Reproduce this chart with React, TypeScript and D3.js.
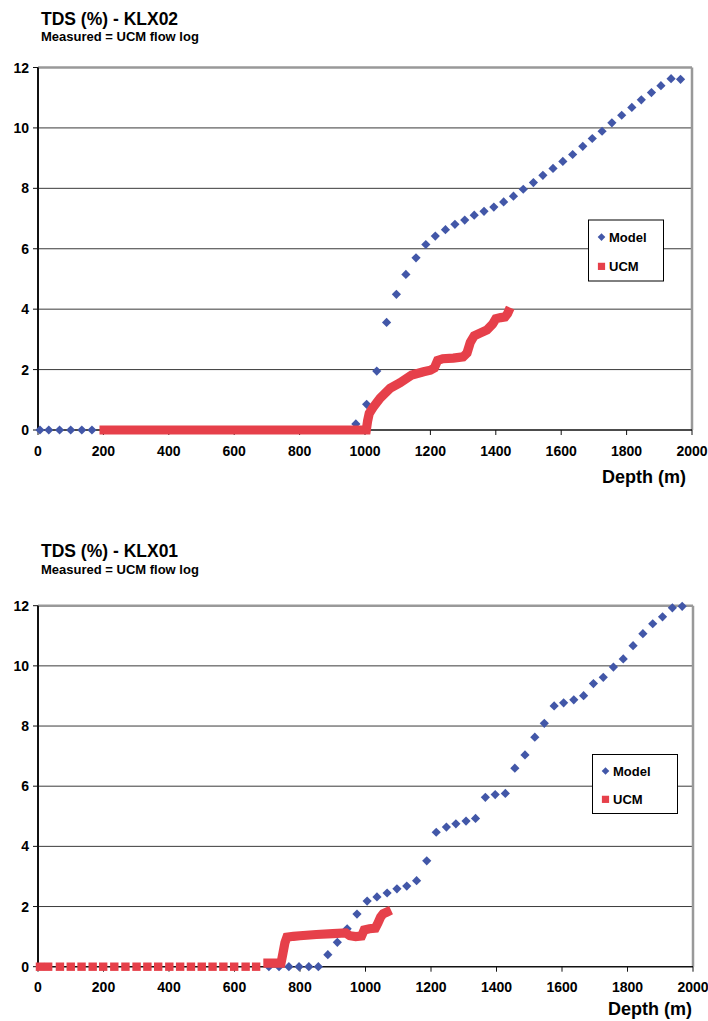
import React from 'react';
import * as d3 from 'd3';

// axis ticks
const depthTicks = [0, 200, 400, 600, 800, 1000, 1200, 1400, 1600, 1800, 2000];
const tdsTicks = [0, 2, 4, 6, 8, 10, 12];
const gridTicks = [2, 4, 6, 8, 10];

// ---- KLX02 ----
const klx02ModelDepth = [
  6, 33, 66, 100, 134, 165,
  972, 1005, 1036, 1066, 1096, 1125, 1156, 1186, 1215, 1246, 1275, 1305, 1334, 1364,
  1394, 1424, 1454, 1484, 1515, 1544, 1575, 1605, 1635, 1666, 1695, 1725, 1755, 1785,
  1816, 1845, 1876, 1905, 1936, 1965,
];
const klx02ModelTds = [
  0, 0, 0, 0, 0, 0,
  0.2, 0.85, 1.95, 3.56, 4.49, 5.15, 5.7, 6.14, 6.42, 6.63, 6.81, 6.95, 7.11, 7.24,
  7.38, 7.55, 7.74, 7.97, 8.19, 8.43, 8.66, 8.89, 9.12, 9.39, 9.65, 9.89, 10.17, 10.42,
  10.68, 10.93, 11.17, 11.4, 11.63, 11.61,
];
// UCM flow log (continuous)
const klx02UcmDepth = [
  188, 400, 600, 800, 1004, 1008, 1013, 1025, 1046, 1077, 1107, 1143, 1179, 1200, 1212,
  1222, 1238, 1270, 1300, 1312, 1322, 1334, 1350, 1373, 1390, 1400, 1415, 1428, 1436, 1444,
];
const klx02UcmTds = [
  0, 0, 0, 0, 0, 0.3, 0.55, 0.75, 1.05, 1.38, 1.56, 1.82, 1.93, 1.98, 2.05,
  2.3, 2.36, 2.38, 2.42, 2.55, 2.9, 3.12, 3.2, 3.31, 3.5, 3.68, 3.72, 3.74, 3.85, 4.05,
];
const klx02UcmSpotDepth: number[] = [];

// ---- KLX01 ----
const klx01ModelDepth = [
  705, 736, 766, 797, 827, 856, 885, 914, 944, 974, 1005, 1035, 1066, 1096, 1126, 1156,
  1187, 1216, 1247, 1276, 1307, 1336, 1366, 1396, 1427, 1456, 1487, 1517, 1546, 1576,
  1605, 1636, 1666, 1696, 1726, 1757, 1787, 1817, 1847, 1877, 1907, 1937, 1967,
];
const klx01ModelTds = [
  0, 0, 0, 0, 0, 0, 0.4, 0.81, 1.26, 1.75, 2.18, 2.32, 2.45, 2.59, 2.68, 2.86,
  3.52, 4.47, 4.64, 4.75, 4.84, 4.93, 5.63, 5.72, 5.76, 6.6, 7.04, 7.63, 8.09, 8.67,
  8.77, 8.87, 9.01, 9.41, 9.62, 9.96, 10.23, 10.67, 11.07, 11.4, 11.63, 11.93, 11.98,
];
// sparse UCM readings above the logged interval (all zero)
const klx01UcmSpotDepth = [
  6, 31, 67, 100, 133, 167, 199, 233, 267, 301, 334, 367, 401, 434, 467, 500, 533,
  566, 599, 634, 666,
];
const klx01UcmDepth = [
  688, 742, 748, 754, 760, 780, 800, 850, 900, 940, 952, 970, 988, 996, 1012, 1030,
  1038, 1046, 1054, 1066, 1078,
];
const klx01UcmTds = [
  0.12, 0.12, 0.45, 0.8, 0.98, 1.01, 1.03, 1.07, 1.1, 1.12, 1.03, 1.0, 1.02, 1.22, 1.26,
  1.28, 1.45, 1.65, 1.76, 1.82, 1.88,
];

const FONT = '"Liberation Sans", Arial, Helvetica, sans-serif';
const BLUE = '#4257a8';
const RED = '#e6404a';

type Box = { left: number; right: number; top: number; bottom: number };

type ChartProps = {
  title: string;
  titleY: number;
  subY: number;
  plot: Box;
  legend: Box;
  depthLabelEnd: number;
  depthLabelY: number;
  modelDepth: number[];
  modelTds: number[];
  ucmDepth: number[];
  ucmTds: number[];
  ucmSpotDepth: number[];
};

const diamond = (r: number) => `M0,${-r}L${r},0L0,${r}L${-r},0Z`;

function TdsChart(p: ChartProps) {
  const { plot, legend } = p;
  const x = d3.scaleLinear().domain([0, 2000]).range([plot.left, plot.right]);
  const y = d3.scaleLinear().domain([0, 12]).range([plot.bottom, plot.top]);

  const ucmPath = d3.line<number>()
    .x((d, i) => x(p.ucmDepth[i]))
    .y(d => y(d))(p.ucmTds);

  const legMid = legend.left + 13;
  const legRow1 = legend.top + (legend.bottom - legend.top) * 0.28;
  const legRow2 = legend.top + (legend.bottom - legend.top) * 0.76;

  return (
    <g fontFamily={FONT} fontWeight="bold" fill="#000">
      <text x={41} y={p.titleY} fontSize={17.5}>{p.title}</text>
      <text x={41} y={p.subY} fontSize={13}>Measured = UCM flow log</text>

      {/* grid */}
      {gridTicks.map(t => (
        <line key={'g' + t} x1={plot.left} x2={plot.right} y1={y(t)} y2={y(t)}
          stroke="#3a3a3a" strokeWidth={1} />
      ))}
      {/* top and right frame */}
      <line x1={plot.left} x2={plot.right} y1={y(12)} y2={y(12)} stroke="#999" strokeWidth={2.5} />
      <line x1={plot.right} x2={plot.right} y1={y(12)} y2={plot.bottom} stroke="#999" strokeWidth={2.5} />

      {/* y axis */}
      <line x1={plot.left} x2={plot.left} y1={y(12)} y2={plot.bottom} stroke="#111" strokeWidth={2} />
      {tdsTicks.map(t => (
        <g key={'y' + t}>
          <line x1={plot.left - 5} x2={plot.left} y1={y(t)} y2={y(t)} stroke="#111" strokeWidth={1} />
          <text x={29} y={y(t)} dy="0.36em" textAnchor="end" fontSize={14}>{t}</text>
        </g>
      ))}

      {/* x axis */}
      <line x1={plot.left} x2={plot.right} y1={plot.bottom} y2={plot.bottom} stroke="#111" strokeWidth={1.5} />
      {depthTicks.map(t => (
        <g key={'x' + t}>
          <line x1={x(t)} x2={x(t)} y1={plot.bottom} y2={plot.bottom + 5} stroke="#111" strokeWidth={1} />
          <text x={x(t)} y={plot.bottom + 25.5} textAnchor="middle" fontSize={14}>{t}</text>
        </g>
      ))}
      <text x={p.depthLabelEnd} y={p.depthLabelY} textAnchor="end" fontSize={18}>Depth (m)</text>

      {/* Model */}
      {p.modelDepth.map((d, i) => (
        <path key={'m' + i} d={diamond(4.6)} fill={BLUE}
          transform={`translate(${x(d)},${y(p.modelTds[i])})`} />
      ))}

      {/* UCM */}
      {p.ucmSpotDepth.map((d, i) => (
        <rect key={'s' + i} x={x(d) - 4.2} y={y(0) - 4.2} width={8.4} height={8.4} fill={RED} />
      ))}
      <path d={ucmPath || ''} fill="none" stroke={RED} strokeWidth={9.2}
        strokeLinecap="butt" strokeLinejoin="miter" strokeMiterlimit={2} />

      {/* legend */}
      <rect x={legend.left} y={legend.top} width={legend.right - legend.left}
        height={legend.bottom - legend.top} fill="#fff" stroke="#000" strokeWidth={1} />
      <path d={diamond(3.8)} fill={BLUE} transform={`translate(${legMid},${legRow1})`} />
      <text x={legMid + 7.5} y={legRow1} dy="0.36em" fontSize={13}>Model</text>
      <rect x={legMid - 3.6} y={legRow2 - 3.6} width={7.2} height={7.2} fill={RED} />
      <text x={legMid + 7.5} y={legRow2} dy="0.36em" fontSize={13}>UCM</text>
    </g>
  );
}

export default function App() {
  return (
    <svg width={708} height={1021} style={{ position: 'absolute', left: 0, top: 0, background: '#fff' }}>
      <rect width={708} height={1021} fill="#fff" />
      <TdsChart
        title="TDS (%) - KLX02"
        titleY={25}
        subY={41}
        plot={{ left: 38, right: 692, top: 67.5, bottom: 430 }}
        legend={{ left: 588.5, right: 663.5, top: 220, bottom: 281 }}
        depthLabelEnd={686}
        depthLabelY={483}
        modelDepth={klx02ModelDepth}
        modelTds={klx02ModelTds}
        ucmDepth={klx02UcmDepth}
        ucmTds={klx02UcmTds}
        ucmSpotDepth={klx02UcmSpotDepth}
      />
      <TdsChart
        title="TDS (%) - KLX01"
        titleY={557}
        subY={574}
        plot={{ left: 38, right: 693, top: 605.7, bottom: 966.7 }}
        legend={{ left: 592.5, right: 677.5, top: 754.5, bottom: 813.5 }}
        depthLabelEnd={692}
        depthLabelY={1015}
        modelDepth={klx01ModelDepth}
        modelTds={klx01ModelTds}
        ucmDepth={klx01UcmDepth}
        ucmTds={klx01UcmTds}
        ucmSpotDepth={klx01UcmSpotDepth}
      />
    </svg>
  );
}
